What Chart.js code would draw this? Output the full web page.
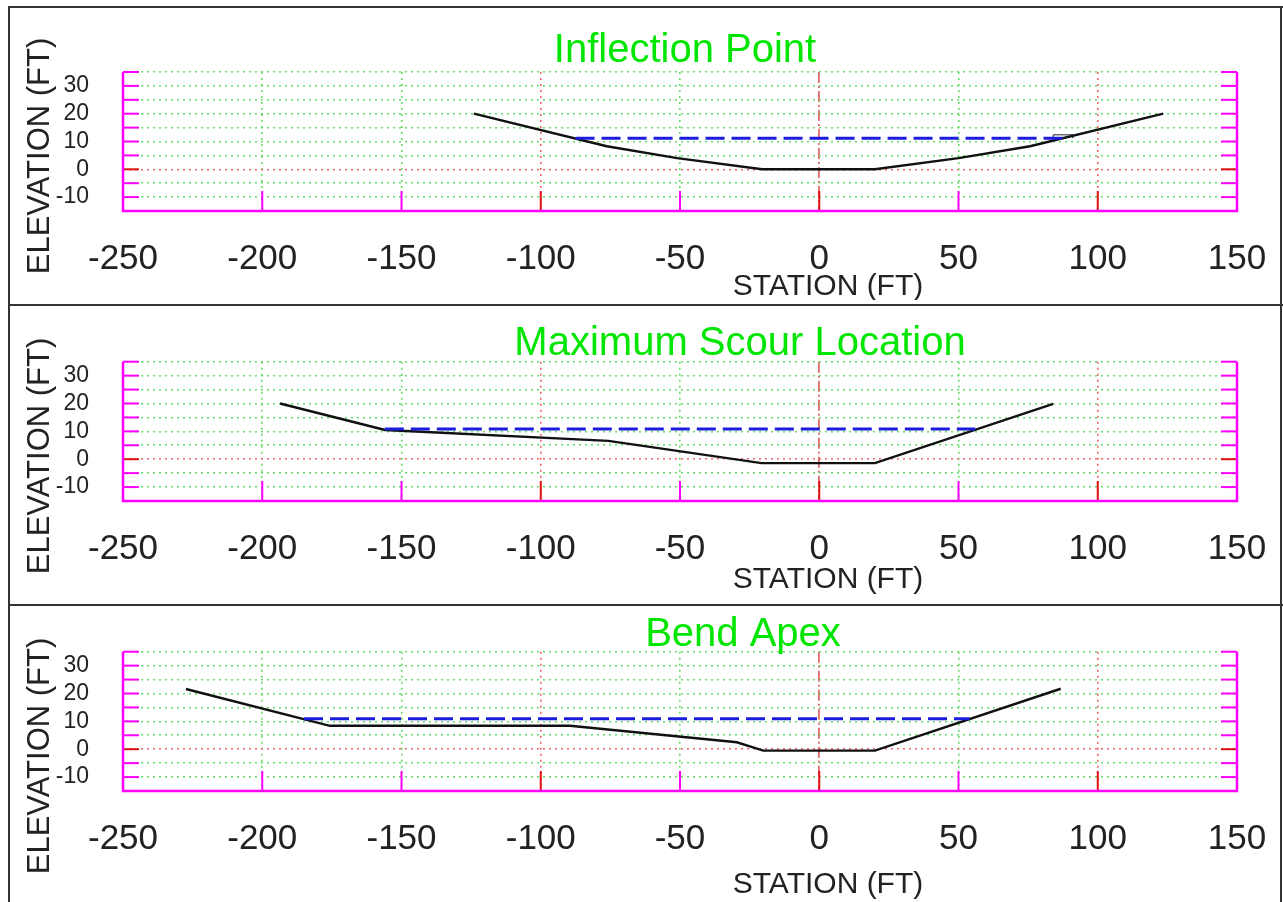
<!DOCTYPE html>
<html>
<head>
<meta charset="utf-8">
<script src="https://cdn.jsdelivr.net/npm/chart.js@4.4.0/dist/chart.umd.min.js"></script>
<style>
body { margin: 0; background: #fff; }
#wrap { position: relative; width: 1283px; height: 902px; overflow: hidden; }
canvas { position: absolute; left: 0; }
.rule { position: absolute; background: #333; z-index: 5; }
</style>
</head>
<body>
<div id="wrap">
  <canvas id="c1" width="1283" height="300" style="top:0px"></canvas>
  <canvas id="c2" width="1283" height="300" style="top:300px"></canvas>
  <canvas id="c3" width="1283" height="302" style="top:600px"></canvas>
  <div class="rule" style="left:8px;top:6px;width:1275px;height:2px"></div>
  <div class="rule" style="left:8px;top:6px;width:2px;height:900px"></div>
  <div class="rule" style="left:1280px;top:6px;width:2px;height:900px"></div>
  <div class="rule" style="left:8px;top:304px;width:1275px;height:2px"></div>
  <div class="rule" style="left:8px;top:604px;width:1275px;height:2px"></div>
</div>
<script>
// axis ticks
var stationTicks = [-250, -200, -150, -100, -50, 0, 50, 100, 150];
var elevGrid = [-15, -10, -5, 0, 5, 10, 15, 20, 25, 30, 35];
var elevLabels = [-10, 0, 10, 20, 30];

// Inflection Point
var inflStation = [-124, -76.3, -51, -20.5, 20, 50, 75.7, 123.5];
var inflElev = [20, 8.3, 4, 0, 0, 4, 8.3, 20];
var inflWsStation = [-87.5, 87.5];
var inflWsElev = [11.2, 11.2];
var inflMarkStation = [84, 84, 91, 91];
var inflMarkElev = [11.3, 12.4, 12.4, 11.3];

// Maximum Scour Location
var scourStation = [-193.6, -155.9, -75.7, -20.7, 20, 84];
var scourElev = [20, 10.5, 6.6, -1.4, -1.4, 19.9];
var scourWsStation = [-156, 56];
var scourWsElev = [10.8, 10.8];

// Bend Apex
var apexStation = [-227.4, -175.7, -89.5, -29.6, -20.1, 20, 86.7];
var apexElev = [21.6, 8.4, 8.4, 2.5, -0.5, -0.5, 21.7];
var apexWsStation = [-185, 54];
var apexWsElev = [10.9, 10.9];

var FONT = '"Liberation Sans", Arial, sans-serif';
var redLines = [-100, 0, 100];

function pts(xs, ys) {
  return xs.map(function (x, i) { return { x: x, y: ys[i] }; });
}

function line(ctx, x1, y1, x2, y2) {
  ctx.beginPath();
  ctx.moveTo(x1, y1);
  ctx.lineTo(x2, y2);
  ctx.stroke();
}

var framePlugin = {
  id: 'frame',
  afterDraw: function (chart) {
    var ctx = chart.ctx, a = chart.chartArea;
    var xs = chart.scales.x, ys = chart.scales.y;
    var o = chart.options.plugins.frame;
    ctx.save();
    ctx.lineWidth = 2;
    ys.ticks.forEach(function (t) {
      if (t.value === -15) return;
      var py = ys.getPixelForValue(t.value);
      ctx.strokeStyle = t.value === 0 ? '#e01010' : '#ff00ff';
      line(ctx, a.left, py, a.left + 16, py);
      line(ctx, a.right - 16, py, a.right, py);
    });
    xs.ticks.forEach(function (t) {
      if (t.value === -250 || t.value === 150) return;
      var px = xs.getPixelForValue(t.value);
      ctx.strokeStyle = redLines.indexOf(t.value) >= 0 ? '#e01010' : '#ff00ff';
      line(ctx, px, a.bottom - 20, px, a.bottom);
    });
    ctx.strokeStyle = '#ff00ff';
    ctx.lineWidth = 2.5;
    ctx.beginPath();
    ctx.moveTo(a.left, a.top);
    ctx.lineTo(a.left, a.bottom);
    ctx.lineTo(a.right, a.bottom);
    ctx.lineTo(a.right, a.top);
    ctx.stroke();

    // titles
    ctx.fillStyle = '#00e600';
    ctx.font = '40px ' + FONT;
    ctx.textAlign = 'center';
    ctx.textBaseline = 'alphabetic';
    ctx.fillText(o.title, o.titleX, o.titleY);

    ctx.fillStyle = '#222';
    ctx.font = '30px ' + FONT;
    ctx.textBaseline = 'middle';
    ctx.fillText('STATION (FT)', 828, o.xTitleY);

    ctx.translate(40, 156);
    ctx.rotate(-Math.PI / 2);
    ctx.font = '31px ' + FONT;
    ctx.fillText('ELEVATION (FT)', 0, 0);
    ctx.restore();
  }
};

function makeChart(id, cfg) {
  var canvas = document.getElementById(id);
  var H = canvas.height;
  var datasets = [
    {
      data: pts(cfg.wsStation, cfg.wsElev),
      borderColor: '#1c1cdc',
      borderWidth: 3,
      borderDash: [19, 7],
      pointRadius: 0,
      showLine: true
    },
    {
      data: pts(cfg.station, cfg.elev),
      borderColor: '#111',
      borderWidth: 2.4,
      pointRadius: 0,
      showLine: true
    }
  ];
  if (cfg.markStation) {
    datasets.push({
      data: pts(cfg.markStation, cfg.markElev),
      borderColor: '#222',
      borderWidth: 1,
      pointRadius: 0,
      showLine: true
    });
  }
  return new Chart(canvas.getContext('2d'), {
    type: 'scatter',
    data: { datasets: datasets },
    plugins: [framePlugin],
    options: {
      responsive: false,
      animation: false,
      devicePixelRatio: 1,
      layout: { padding: { left: 0, right: 1283 - 1237, top: cfg.top, bottom: H - cfg.bottom - 60 } },
      plugins: {
        legend: { display: false },
        tooltip: { enabled: false },
        frame: { title: cfg.title, titleX: cfg.titleX, titleY: cfg.titleY, xTitleY: cfg.xTitleY }
      },
      scales: {
        x: {
          type: 'linear',
          min: -250,
          max: 150,
          afterBuildTicks: function (s) { s.ticks = stationTicks.map(function (v) { return { value: v }; }); },
          afterFit: function (s) { s.height = 60; s.paddingLeft = 0; s.paddingRight = 0; },
          border: {
            display: false,
            dash: function (c) { return c.tick && c.tick.value === 0 ? [11, 3, 2, 3] : [2, 4]; }
          },
          grid: {
            drawTicks: false,
            lineWidth: function (c) { return c.tick && c.tick.value === 0 ? 1.8 : 1.6; },
            color: function (c) {
              if (!c.tick) return '#66dd66';
              if (c.tick.value === 0) return '#e06a6a';
              return redLines.indexOf(c.tick.value) >= 0 ? '#ee6666' : '#66dd66';
            }
          },
          ticks: {
            autoSkip: false,
            maxRotation: 0,
            padding: 27,
            color: '#222',
            font: { family: FONT, size: 35 }
          }
        },
        y: {
          type: 'linear',
          min: -15,
          max: 35,
          afterBuildTicks: function (s) { s.ticks = elevGrid.map(function (v) { return { value: v }; }); },
          afterFit: function (s) { s.width = 123; },
          border: { display: false, dash: [2, 4] },
          grid: {
            drawTicks: false,
            lineWidth: 1.6,
            color: function (c) { return c.tick && c.tick.value === 0 ? '#ee6666' : '#66dd66'; }
          },
          ticks: {
            autoSkip: false,
            padding: 34,
            color: '#222',
            font: { family: FONT, size: 23 },
            callback: function (v) { return elevLabels.indexOf(v) >= 0 ? String(v) : ''; }
          }
        }
      }
    }
  });
}

makeChart('c1', {
  title: 'Inflection Point', titleX: 685, titleY: 62, xTitleY: 287,
  top: 72, bottom: 211,
  station: inflStation, elev: inflElev,
  wsStation: inflWsStation, wsElev: inflWsElev,
  markStation: inflMarkStation, markElev: inflMarkElev
});
makeChart('c2', {
  title: 'Maximum Scour Location', titleX: 740, titleY: 55, xTitleY: 280,
  top: 61.7, bottom: 201,
  station: scourStation, elev: scourElev,
  wsStation: scourWsStation, wsElev: scourWsElev
});
makeChart('c3', {
  title: 'Bend Apex', titleX: 743, titleY: 46, xTitleY: 285,
  top: 51.7, bottom: 191,
  station: apexStation, elev: apexElev,
  wsStation: apexWsStation, wsElev: apexWsElev
});
</script>
</body>
</html>
